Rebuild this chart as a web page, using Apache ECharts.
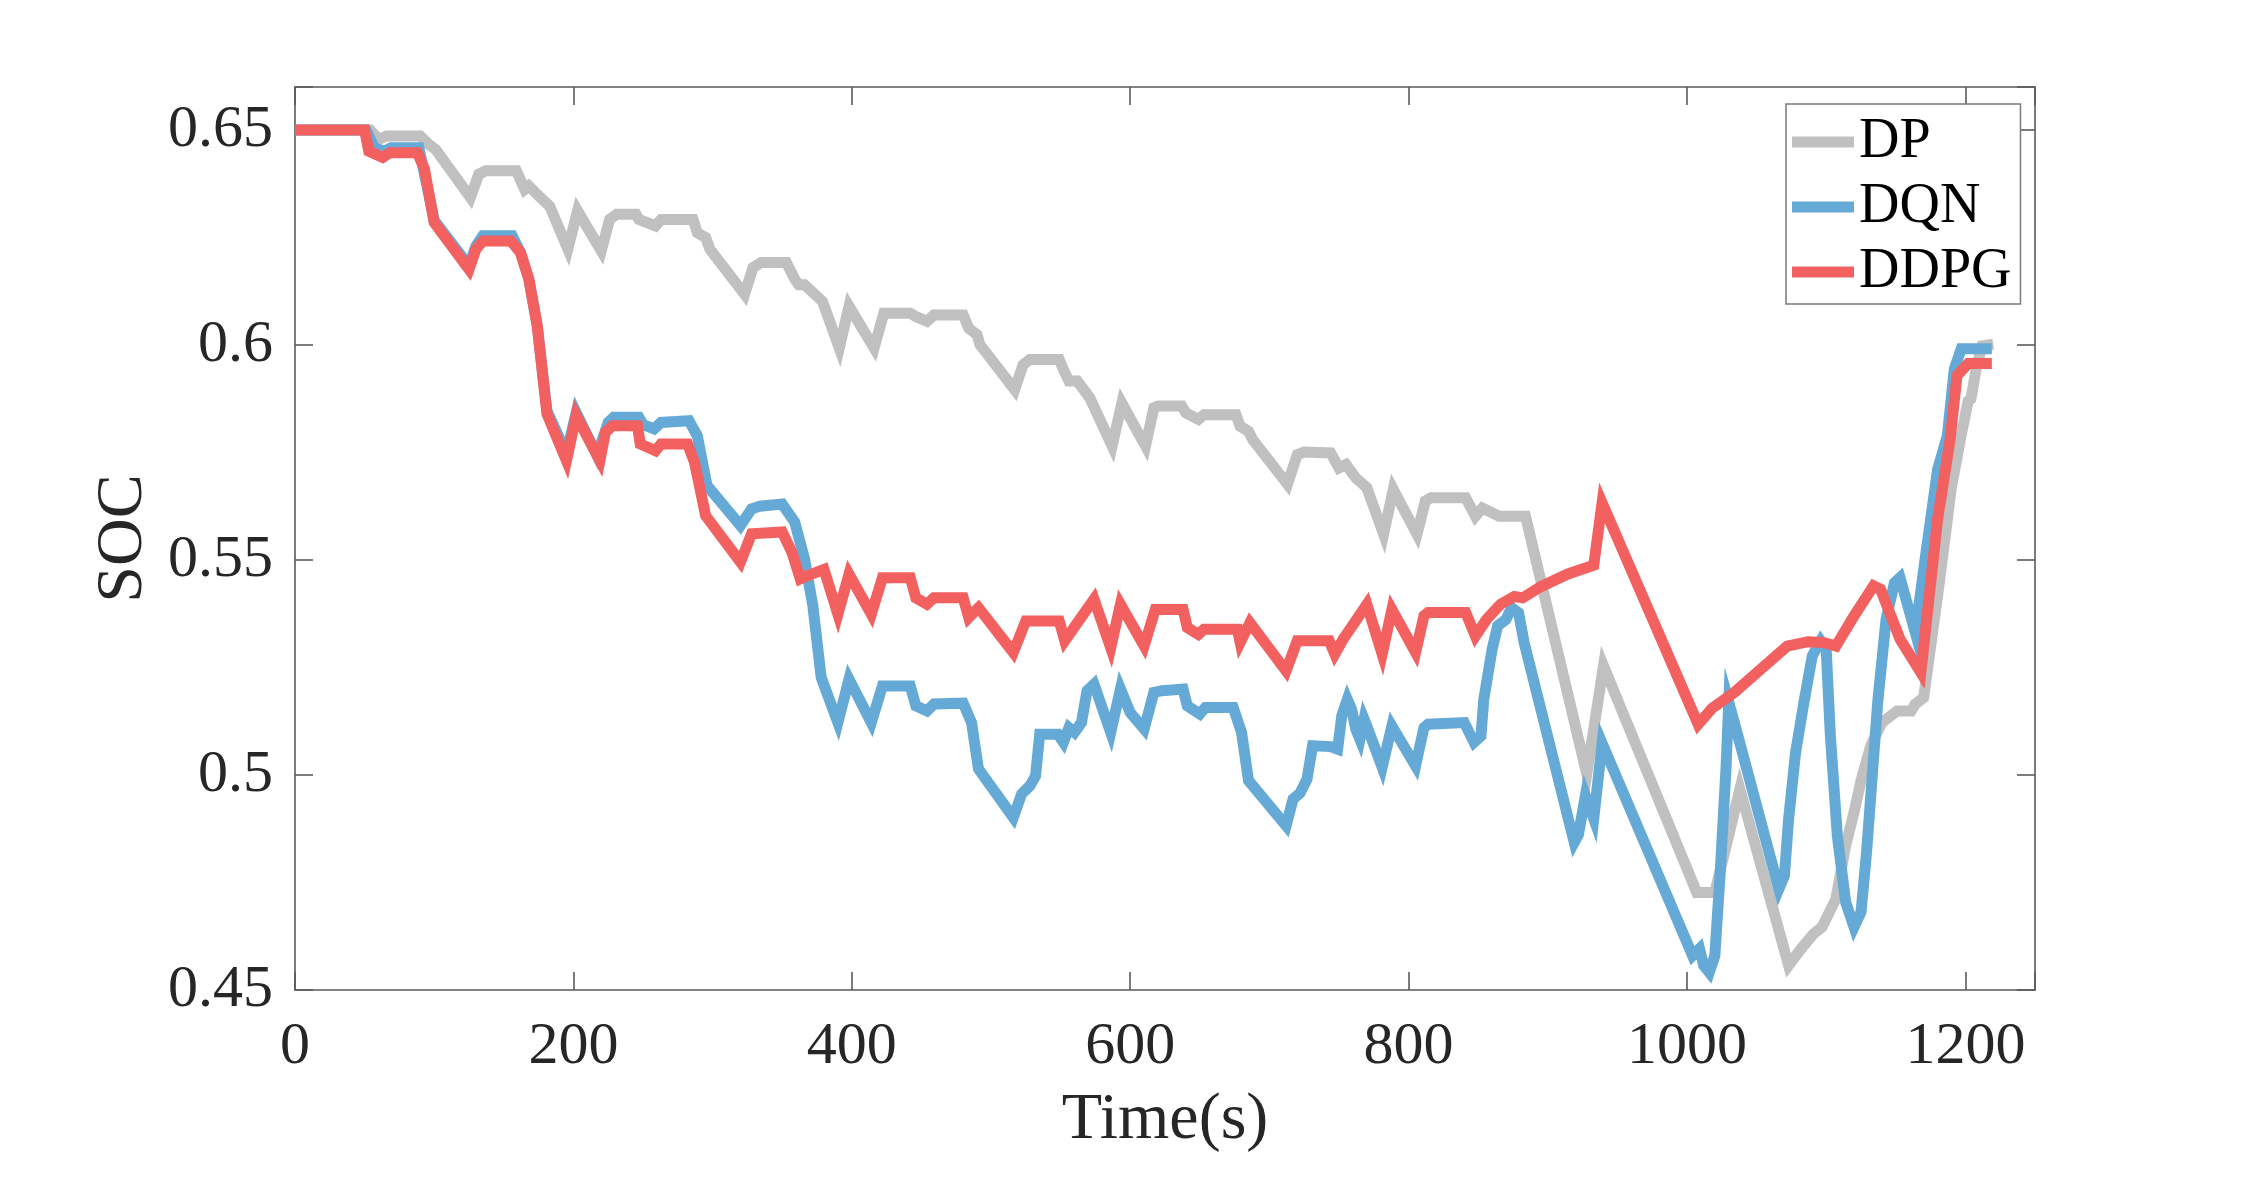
<!DOCTYPE html>
<html>
<head>
<meta charset="utf-8">
<script src="https://cdn.jsdelivr.net/npm/echarts@6/dist/echarts.min.js"></script>
<style>
  html, body { margin: 0; padding: 0; background: #fff; }
  #chart { width: 2250px; height: 1194px; }
</style>
</head>
<body>
<div id="chart"></div>
<script>
// SOC trajectories: DP / DQN / DDPG
const seriesNames = ['DP', 'DQN', 'DDPG'];
const xTicks = [0, 200, 400, 600, 800, 1000, 1200];
const yTicks = [0.45, 0.5, 0.55, 0.6, 0.65];

const dpTime = [0, 54, 60, 66, 90, 96, 101, 126, 132, 137, 159, 165, 168, 175, 183, 196, 203, 220, 226, 231,
  245, 247, 259, 263, 286, 289, 295, 298, 323, 329, 335, 353, 359, 362, 366, 372, 379, 391, 398, 416,
  423, 442, 446, 454, 459, 480, 484, 490, 492, 517, 523, 528, 549, 552, 556, 562, 571, 587, 594, 611,
  617, 620, 637, 640, 649, 653, 676, 679, 685, 688, 713, 720, 725, 744, 750, 755, 762, 770, 782, 789,
  806, 812, 816, 841, 848, 853, 865, 884, 928, 940, 1007, 1020, 1038, 1073, 1082, 1091, 1097, 1107, 1114, 1120,
  1125, 1132, 1140, 1151, 1161, 1164, 1170, 1181, 1190, 1197, 1202, 1204, 1208, 1212, 1220];
const dpSoc = [0.65, 0.65, 0.6478, 0.6486, 0.6486, 0.6467, 0.6455, 0.6343, 0.6397, 0.6405, 0.6405, 0.6362, 0.6370, 0.6347, 0.6323, 0.6223, 0.6312, 0.6219, 0.6292, 0.6304,
  0.6304, 0.6292, 0.6277, 0.6292, 0.6292, 0.6261, 0.6250, 0.6223, 0.6118, 0.6180, 0.6192, 0.6192, 0.6153, 0.6140, 0.6140, 0.6122, 0.6101, 0.5993, 0.6090, 0.5993,
  0.6074, 0.6074, 0.6066, 0.6055, 0.6070, 0.6070, 0.6039, 0.6024, 0.6001, 0.5896, 0.5954, 0.5966, 0.5966, 0.5943, 0.5916, 0.5916, 0.5877, 0.5765, 0.5865, 0.5765,
  0.5854, 0.5858, 0.5858, 0.5842, 0.5827, 0.5838, 0.5838, 0.5811, 0.5799, 0.5780, 0.5676, 0.5745, 0.5751, 0.5749, 0.5714, 0.5722, 0.5691, 0.5668, 0.5560, 0.5664,
  0.5560, 0.5637, 0.5645, 0.5645, 0.5602, 0.5621, 0.5602, 0.5602, 0.5002, 0.5254, 0.4727, 0.4727, 0.4967, 0.4557, 0.4596, 0.4631, 0.4646, 0.4712, 0.4836, 0.4913,
  0.4987, 0.5068, 0.5122, 0.5149, 0.5149, 0.5165, 0.5180, 0.5440, 0.5670, 0.5790, 0.5870, 0.5875, 0.5950, 0.5998, 0.6002];

const dqnTime = [0, 51, 57, 64, 69, 89, 100, 125, 130, 135, 156, 162, 168, 174, 181, 195, 202, 217, 225, 229,
  247, 250, 258, 263, 283, 289, 296, 320, 328, 334, 350, 359, 366, 372, 378, 390, 398, 414, 422, 442,
  446, 454, 459, 480, 486, 491, 516, 522, 528, 532, 535, 548, 552, 556, 560, 565, 569, 574, 586, 593,
  600, 610, 617, 623, 638, 641, 650, 654, 674, 680, 685, 712, 717, 722, 727, 731, 744, 749, 752, 756,
  759, 762, 765, 768, 770, 781, 788, 805, 811, 814, 840, 847, 852, 854, 860, 864, 870, 874, 879, 883,
  919, 922, 927, 933, 939, 1004, 1009, 1012, 1016, 1020, 1024, 1028, 1030, 1034, 1066, 1070, 1073, 1078, 1084, 1090,
  1096, 1100, 1103, 1108, 1114, 1120, 1125, 1129, 1137, 1143, 1149, 1153, 1158, 1164, 1171, 1180, 1187, 1192, 1197, 1219];
const dqnSoc = [0.65, 0.65, 0.6459, 0.6451, 0.6459, 0.6459, 0.6290, 0.6184, 0.6230, 0.6254, 0.6254, 0.6215, 0.6153, 0.6045, 0.5847, 0.5747, 0.5843, 0.5743, 0.5820, 0.5832,
  0.5832, 0.5815, 0.5805, 0.5820, 0.5824, 0.5789, 0.5673, 0.5580, 0.5619, 0.5625, 0.5630, 0.5588, 0.5503, 0.5394, 0.5227, 0.5122, 0.5223, 0.5122, 0.5207, 0.5207,
  0.5161, 0.5149, 0.5165, 0.5167, 0.5122, 0.5014, 0.4901, 0.4956, 0.4975, 0.4998, 0.5095, 0.5095, 0.5076, 0.5110, 0.5099, 0.5122, 0.5196, 0.5211, 0.5099, 0.5200,
  0.5145, 0.5107, 0.5192, 0.5196, 0.5200, 0.5161, 0.5142, 0.5157, 0.5157, 0.5099, 0.4987, 0.4882, 0.4944, 0.4958, 0.4990, 0.5068, 0.5066, 0.5060, 0.5138, 0.5176,
  0.5153, 0.5107, 0.5083, 0.5130, 0.5114, 0.5018, 0.5114, 0.5021, 0.5110, 0.5118, 0.5122, 0.5076, 0.5091, 0.5176, 0.5292, 0.5347, 0.5362, 0.5389, 0.5377, 0.5308,
  0.4843, 0.4861, 0.4952, 0.4898, 0.5074, 0.4580, 0.4596, 0.4557, 0.4541, 0.4580, 0.4781, 0.5014, 0.5169, 0.5122, 0.4735, 0.4766, 0.4898, 0.5052, 0.5169, 0.5277,
  0.5312, 0.5292, 0.5091, 0.4859, 0.4704, 0.4646, 0.4681, 0.4820, 0.5169, 0.5362, 0.5447, 0.5459, 0.5401, 0.5331, 0.5501, 0.5710, 0.5789, 0.5944, 0.5991, 0.5991];

const ddpgTime = [0, 50, 53, 63, 68, 88, 93, 100, 125, 130, 135, 155, 162, 168, 174, 181, 195, 202, 219, 223,
  228, 246, 248, 259, 263, 282, 287, 295, 320, 328, 350, 357, 363, 367, 380, 390, 398, 414, 422, 442,
  446, 454, 459, 480, 484, 491, 516, 525, 549, 553, 562, 574, 586, 593, 610, 618, 638, 641, 649, 653,
  677, 679, 686, 712, 720, 743, 747, 753, 761, 770, 781, 788, 805, 811, 814, 841, 848, 856, 866, 876,
  882, 895, 914, 933, 939, 1008, 1018, 1034, 1072, 1087, 1098, 1107, 1120, 1134, 1139, 1153, 1168, 1180, 1189, 1194,
  1202, 1219];
const ddpgSoc = [0.65, 0.65, 0.6451, 0.6436, 0.6447, 0.6447, 0.6409, 0.6285, 0.6176, 0.6223, 0.6242, 0.6242, 0.6215, 0.6153, 0.6045, 0.5840, 0.5731, 0.5836, 0.5731, 0.5797,
  0.5812, 0.5812, 0.5770, 0.5754, 0.5770, 0.5770, 0.5727, 0.5603, 0.5495, 0.5561, 0.5565, 0.5518, 0.5456, 0.5462, 0.5478, 0.5374, 0.5467, 0.5374, 0.5459, 0.5459,
  0.5412, 0.5397, 0.5412, 0.5412, 0.5366, 0.5389, 0.5285, 0.5358, 0.5358, 0.5312, 0.5354, 0.5409, 0.5296, 0.5397, 0.5300, 0.5385, 0.5385, 0.5343, 0.5327, 0.5339,
  0.5339, 0.5308, 0.5354, 0.5242, 0.5312, 0.5312, 0.5281, 0.5316, 0.5354, 0.5397, 0.5281, 0.5385, 0.5285, 0.5370, 0.5378, 0.5378, 0.5323, 0.5362, 0.5397, 0.5415,
  0.5412, 0.5438, 0.5467, 0.5488, 0.5633, 0.5118, 0.5155, 0.5192, 0.5300, 0.5310, 0.5308, 0.5300, 0.5370, 0.5440, 0.5432, 0.5316, 0.5238, 0.5594, 0.5780, 0.5929,
  0.5957, 0.5957];

const colors = ['#c0c0c0', '#65aad6', '#f26060'];
const FONT = '"Liberation Serif", "Times New Roman", serif';
const axisLineStyle = { color: '#5a5a5a', width: 1.6 };

function pairs(ts, vs) { return ts.map((t, i) => [t, vs[i]]); }

const chart = echarts.init(document.getElementById('chart'));

function fmtX(v) { return xTicks.includes(v) ? String(v) : ''; }
function fmtY(v) {
  const hit = yTicks.find(t => Math.abs(t - v) < 1e-6);
  return hit === undefined ? '' : String(hit);
}

const baseX = { type: 'value', min: 0, max: 1250, interval: 200, splitLine: { show: false } };
const baseY = { type: 'value', min: 0.45, max: 0.66, interval: 0.05, splitLine: { show: false } };

chart.setOption({
  animation: false,
  backgroundColor: '#fff',
  color: colors,
  grid: { left: 295, top: 87, width: 1740, height: 903, containLabel: false },
  legend: {
    data: seriesNames,
    orient: 'vertical',
    left: 1786, top: 104,
    icon: 'rect',
    itemWidth: 62, itemHeight: 11, itemGap: 9,
    padding: [10, 9, 4, 6],
    backgroundColor: '#fff',
    borderColor: '#7a7a7a', borderWidth: 1.5, borderRadius: 0,
    textStyle: { fontFamily: FONT, fontSize: 56, color: '#000', lineHeight: 56 }
  },
  xAxis: [
    Object.assign({}, baseX, {
      position: 'bottom',
      axisLine: { show: true, onZero: false, lineStyle: axisLineStyle },
      axisTick: { show: true, inside: true, length: 18, lineStyle: axisLineStyle },
      axisLabel: { formatter: fmtX, fontFamily: FONT, fontSize: 60, color: '#262626', margin: 27 },
      name: 'Time(s)', nameLocation: 'middle', nameGap: 98,
      nameTextStyle: { fontFamily: FONT, fontSize: 66, color: '#262626', lineHeight: 66 }
    }),
    Object.assign({}, baseX, {
      position: 'top',
      axisLine: { show: true, onZero: false, lineStyle: axisLineStyle },
      axisTick: { show: true, inside: true, length: 18, lineStyle: axisLineStyle },
      axisLabel: { show: false }
    })
  ],
  yAxis: [
    Object.assign({}, baseY, {
      position: 'left',
      axisLine: { show: true, onZero: false, lineStyle: axisLineStyle },
      axisTick: { show: true, inside: true, length: 18, lineStyle: axisLineStyle },
      axisLabel: { formatter: fmtY, fontFamily: FONT, fontSize: 60, color: '#262626', margin: 22 },
      name: 'SOC', nameLocation: 'middle', nameGap: 136,
      nameTextStyle: { fontFamily: FONT, fontSize: 66, color: '#262626', lineHeight: 66 }
    }),
    Object.assign({}, baseY, {
      position: 'right',
      axisLine: { show: true, onZero: false, lineStyle: axisLineStyle },
      axisTick: { show: true, inside: true, length: 18, lineStyle: axisLineStyle },
      axisLabel: { show: false }
    })
  ],
  series: [
    { name: 'DP', data: pairs(dpTime, dpSoc) },
    { name: 'DQN', data: pairs(dqnTime, dqnSoc) },
    { name: 'DDPG', data: pairs(ddpgTime, ddpgSoc) }
  ].map((s, i) => ({
    name: s.name,
    type: 'line',
    xAxisIndex: 0, yAxisIndex: 0,
    data: s.data,
    showSymbol: false,
    smooth: false,
    color: colors[i],
    lineStyle: { width: 11, color: colors[i], join: 'miter', cap: 'butt' },
    emphasis: { disabled: true },
    z: 2 + i
  }))
});
</script>
</body>
</html>
